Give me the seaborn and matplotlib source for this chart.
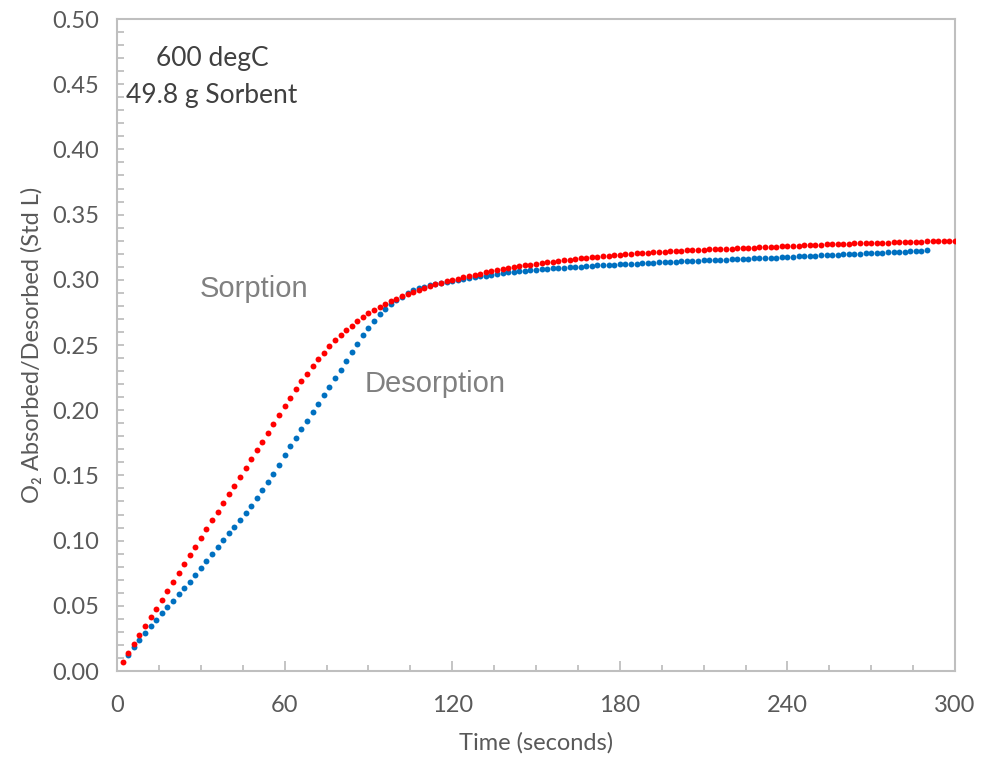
import numpy as np
import matplotlib
matplotlib.use("Agg")
import matplotlib.pyplot as plt
import seaborn as sns
from matplotlib.ticker import MultipleLocator, FormatStrFormatter

# O2 absorbed (red, sorption) and desorbed (blue, desorption), Std L, sampled every 2 s
sorption = [
    0.0067, 0.0136, 0.0205, 0.0274, 0.0343, 0.0412, 0.0478, 0.0547, 0.0613, 0.0683,
    0.0751, 0.0821, 0.0887, 0.0953, 0.1020, 0.1089, 0.1156, 0.1222, 0.1288, 0.1355,
    0.1421, 0.1488, 0.1557, 0.1623, 0.1692, 0.1758, 0.1825, 0.1894,
    0.1961, 0.2030, 0.2096, 0.2160, 0.2222, 0.2280, 0.2337, 0.2393, 0.2441, 0.2490,
    0.2536, 0.2574, 0.2613, 0.2648, 0.2682, 0.2715, 0.2743, 0.2768, 0.2794, 0.2817,
    0.2835, 0.2855, 0.2876, 0.2893, 0.2909, 0.2924, 0.2937, 0.2952, 0.2965, 0.2978,
    0.2989,
    0.3000, 0.3009, 0.3019, 0.3029, 0.3039, 0.3048, 0.3057, 0.3066, 0.3074, 0.3082,
    0.3090, 0.3097, 0.3104, 0.3111, 0.3117, 0.3123, 0.3129, 0.3134, 0.3140, 0.3145,
    0.3150, 0.3155, 0.3160, 0.3164, 0.3169, 0.3173, 0.3178, 0.3182, 0.3186, 0.3190,
    0.3193, 0.3196, 0.3199, 0.3202, 0.3205, 0.3208, 0.3211, 0.3213, 0.3216, 0.3218,
    0.3221, 0.3223, 0.3225, 0.3227, 0.3229, 0.3231, 0.3233, 0.3235, 0.3237, 0.3238,
    0.3240, 0.3242, 0.3243, 0.3245, 0.3247, 0.3248, 0.3250, 0.3252, 0.3254, 0.3256,
    0.3258, 0.3260, 0.3262, 0.3264, 0.3266, 0.3268, 0.3270, 0.3271, 0.3273, 0.3274,
    0.3276, 0.3277, 0.3279, 0.3280, 0.3281, 0.3282, 0.3284, 0.3285, 0.3286, 0.3288,
    0.3289, 0.3290, 0.3291, 0.3292, 0.3293, 0.3294, 0.3295, 0.3296, 0.3297, 0.3298,
    0.3299,
]
desorption = [
    0.0125, 0.0184, 0.0240, 0.0294, 0.0345, 0.0394, 0.0442, 0.0491, 0.0539, 0.0588,
    0.0637, 0.0685, 0.0736, 0.0790, 0.0844, 0.0895, 0.0949, 0.1002, 0.1056, 0.1107,
    0.1158, 0.1212, 0.1265, 0.1324, 0.1386, 0.1447, 0.1513, 0.1582, 0.1654, 0.1723,
    0.1787, 0.1853, 0.1920, 0.1984, 0.2048, 0.2114, 0.2178, 0.2245, 0.2311, 0.2380,
    0.2444, 0.2510, 0.2574, 0.2633, 0.2686, 0.2735, 0.2776, 0.2812, 0.2843,
    0.2868, 0.2895, 0.2922, 0.2935, 0.2947, 0.2960, 0.2970, 0.2978, 0.2986,
    0.2993, 0.3000, 0.3007, 0.3013, 0.3019, 0.3026, 0.3032, 0.3038, 0.3044, 0.3050,
    0.3056, 0.3061, 0.3066, 0.3071, 0.3075, 0.3079, 0.3082, 0.3085, 0.3088, 0.3091,
    0.3094, 0.3097, 0.3100, 0.3102, 0.3105, 0.3107, 0.3110, 0.3112, 0.3114, 0.3116,
    0.3118, 0.3120, 0.3123, 0.3125, 0.3127, 0.3129, 0.3131, 0.3133, 0.3135, 0.3137,
    0.3139, 0.3141, 0.3143, 0.3145, 0.3147, 0.3149, 0.3150, 0.3152, 0.3154, 0.3155,
    0.3157, 0.3159, 0.3160, 0.3162, 0.3164, 0.3165, 0.3167, 0.3169, 0.3171, 0.3173,
    0.3175, 0.3177, 0.3179, 0.3181, 0.3183, 0.3185, 0.3187, 0.3189, 0.3191, 0.3193,
    0.3195, 0.3197, 0.3199, 0.3201, 0.3203, 0.3205, 0.3207, 0.3209, 0.3211, 0.3213,
    0.3215, 0.3217, 0.3219, 0.3221, 0.3223, 0.3225,
]
sorption_time = 2 * np.arange(1, len(sorption) + 1)       # 2 .. 300 s
desorption_time = 2 * np.arange(2, len(desorption) + 2)   # 4 .. 290 s

x_ticks = [0, 60, 120, 180, 240, 300]

sns.set_theme(style="white")
plt.rcParams['font.family'] = ['Lato', 'DejaVu Sans']

fig = plt.figure(figsize=(9.92, 7.57), dpi=100)
ax = fig.add_axes([0.118, 0.1136, 0.8447, 0.8613])

sns.scatterplot(x=desorption_time, y=desorption, color="#0070c0", s=18,
                linewidth=0, ax=ax, zorder=3)
sns.scatterplot(x=sorption_time, y=sorption, color="#ff0000", s=18,
                linewidth=0, ax=ax, zorder=4)

ax.set_xlim(0, 300)
ax.set_ylim(0, 0.5)
ax.set_xticks(x_ticks)
ax.xaxis.set_minor_locator(MultipleLocator(15))
ax.yaxis.set_major_locator(MultipleLocator(0.05))
ax.yaxis.set_minor_locator(MultipleLocator(0.01))
ax.yaxis.set_major_formatter(FormatStrFormatter('%.2f'))

grey = "#bfbfbf"
for sp in ax.spines.values():
    sp.set_color(grey)
    sp.set_linewidth(1.5)
ax.tick_params(axis='both', which='both', direction='in', color=grey, width=1.3,
               labelsize=17, labelcolor="#595959")
ax.tick_params(axis='x', which='major', length=7, pad=17)
ax.tick_params(axis='x', which='minor', length=4.5)
ax.tick_params(axis='y', which='both', length=5, left=True, pad=13)
ax.tick_params(axis='x', which='both', bottom=True)

ax.set_xlabel("Time (seconds)", fontsize=17, color="#595959", labelpad=12)
ax.set_ylabel("O\u2082 Absorbed/Desorbed (Std L)", fontsize=17, color="#595959",
              labelpad=7)

ax.text(34, 0.470, "600 degC", ha="center", va="center", fontsize=19, color="#404040")
ax.text(34, 0.441, "49.8 g Sorbent", ha="center", va="center", fontsize=19, color="#404040")
ax.text(49, 0.293, "Sorption", ha="center", va="center", fontsize=21,
        color="#808080", family=["Liberation Sans", "DejaVu Sans"])
ax.text(114, 0.220, "Desorption", ha="center", va="center", fontsize=21,
        color="#808080", family=["Liberation Sans", "DejaVu Sans"])

fig.savefig("out.png", dpi=100)
